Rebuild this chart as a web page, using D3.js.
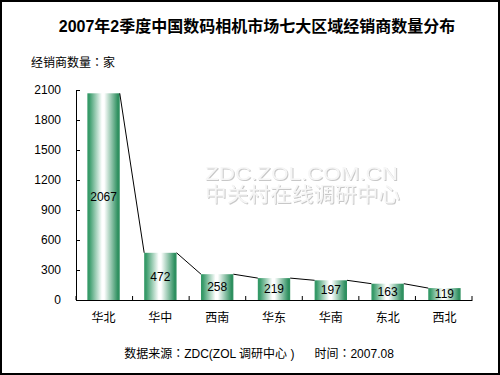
<!DOCTYPE html>
<html>
<head>
<meta charset="utf-8">
<script src="https://cdn.jsdelivr.net/npm/d3@7"></script>
<style>
  html, body { margin: 0; padding: 0; background: #fff; }
  svg text { font-family: "Liberation Sans", Arial, "Noto Sans CJK SC", sans-serif; }
  tspan.colon { font-family: "Noto Sans CJK JP", "Noto Sans CJK TC", sans-serif; }
</style>
</head>
<body>
<div id="chart"></div>
<script>
// 七大区域经销商数量（家）
const regions = ['华北', '华中', '西南', '华东', '华南', '东北', '西北'];
const dealers = [2067, 472, 258, 219, 197, 163, 119];
const yTicks = [0, 300, 600, 900, 1200, 1500, 1800, 2100];

const W = 500, H = 375;
const m = { left: 76, right: 28, top: 90, bottom: 75 };
const cjk = '"Noto Sans CJK SC", sans-serif';

const svg = d3.select('#chart').append('svg')
  .attr('width', W).attr('height', H);

svg.append('rect').attr('x', 1).attr('y', 1).attr('width', W - 2).attr('height', H - 2)
  .attr('fill', '#fff').attr('stroke', '#000').attr('stroke-width', 2);

const defs = svg.append('defs');
const grad = defs.append('linearGradient')
  .attr('id', 'barGrad').attr('x1', '0%').attr('x2', '100%').attr('y1', '0%').attr('y2', '0%');
[[0, '#339966'], [0.06, '#389b6a'], [0.45, '#ffffff'], [0.52, '#ffffff'], [0.94, '#2f9060'], [1, '#2f9060']]
  .forEach(([o, c]) => grad.append('stop').attr('offset', o).attr('stop-color', c));

const emboss = defs.append('filter').attr('id', 'emboss');
emboss.append('feDropShadow').attr('dx', 1).attr('dy', 1).attr('stdDeviation', 0.3)
  .attr('flood-color', '#c8c8c8');

const x = d3.scaleBand().domain(regions)
  .range([m.left, W - m.right]).paddingInner(0.43).paddingOuter(0.2);
const y = d3.scaleLinear().domain([0, 2100]).range([H - m.bottom, m.top]);

// 含全角冒号的文字：冒号单独放一个 tspan，使其居中显示
function colonText(sel, str) {
  str.split(/(：)/).forEach(part => {
    if (!part) return;
    const t = sel.append('tspan').text(part);
    if (part === '：') t.attr('class', 'colon');
  });
  return sel;
}

// 标题
svg.append('text').attr('x', 257).attr('y', 32).attr('text-anchor', 'middle')
  .attr('font-size', 16).attr('font-weight', 'bold')
  .text('2007年2季度中国数码相机市场七大区域经销商数量分布');

colonText(svg.append('text').attr('x', 31).attr('y', 67)
  .attr('font-size', 12).attr('font-family', cjk), '经销商数量：家');

// 水印
const wm = svg.append('g').attr('filter', 'url(#emboss)');
wm.append('text').attr('x', 205).attr('y', 180)
  .attr('font-size', 18).attr('textLength', 193).attr('lengthAdjust', 'spacingAndGlyphs')
  .attr('fill', '#f6f6f6').text('ZDC.ZOL.COM.CN');
wm.append('text').attr('x', 205).attr('y', 202)
  .attr('font-size', 20).attr('textLength', 195).attr('lengthAdjust', 'spacingAndGlyphs')
  .attr('font-family', cjk).attr('fill', '#f6f6f6').text('中关村在线调研中心');

// 柱子
svg.append('g').selectAll('rect')
  .data(regions).join('rect')
  .attr('x', d => x(d))
  .attr('y', (d, i) => y(dealers[i]))
  .attr('width', x.bandwidth())
  .attr('height', (d, i) => y(0) - y(dealers[i]))
  .attr('fill', 'url(#barGrad)');

// 系列线
const segs = d3.pairs(regions.map((r, i) => ({ r, v: dealers[i] })));
svg.append('g').selectAll('line')
  .data(segs).join('line')
  .attr('x1', d => x(d[0].r) + x.bandwidth()).attr('y1', d => y(d[0].v))
  .attr('x2', d => x(d[1].r)).attr('y2', d => y(d[1].v))
  .attr('stroke', '#000').attr('stroke-width', 1);

// 数值标签
svg.append('g').selectAll('text')
  .data(regions).join('text')
  .attr('x', d => x(d) + x.bandwidth() / 2)
  .attr('y', (d, i) => (y(dealers[i]) + y(0)) / 2)
  .attr('dy', '0.36em').attr('text-anchor', 'middle')
  .attr('font-size', 12).attr('fill', '#000')
  .text((d, i) => dealers[i]);

// Y 轴
const yAxis = svg.append('g').attr('transform', `translate(${m.left},0)`)
  .call(d3.axisLeft(y).tickValues(yTicks).tickFormat(d3.format('d'))
    .tickSize(-4).tickSizeOuter(0).tickPadding(15));
yAxis.selectAll('text').attr('font-size', 12).attr('fill', '#000');
yAxis.selectAll('line, path').attr('stroke', '#000');

// X 轴
const xAxis = svg.append('g').attr('transform', `translate(0,${y(0)})`)
  .call(d3.axisBottom(x).tickSize(0).tickPadding(13));
xAxis.selectAll('text').attr('font-size', 12).attr('fill', '#000').attr('font-family', cjk);
xAxis.select('path').attr('stroke', '#000');
const bound = d3.range(regions.length + 1).map(i => m.left + i * (W - m.left - m.right) / regions.length);
svg.append('g').selectAll('line')
  .data(bound).join('line')
  .attr('x1', d => d).attr('x2', d => d)
  .attr('y1', y(0)).attr('y2', y(0) - 4)
  .attr('stroke', '#000');

// 来源
colonText(svg.append('text').attr('x', 259).attr('y', 358).attr('text-anchor', 'middle')
  .attr('font-size', 12).attr('font-family', cjk).attr('xml:space', 'preserve'),
  '数据来源：ZDC(ZOL 调研中心 )      时间：2007.08');
</script>
</body>
</html>
